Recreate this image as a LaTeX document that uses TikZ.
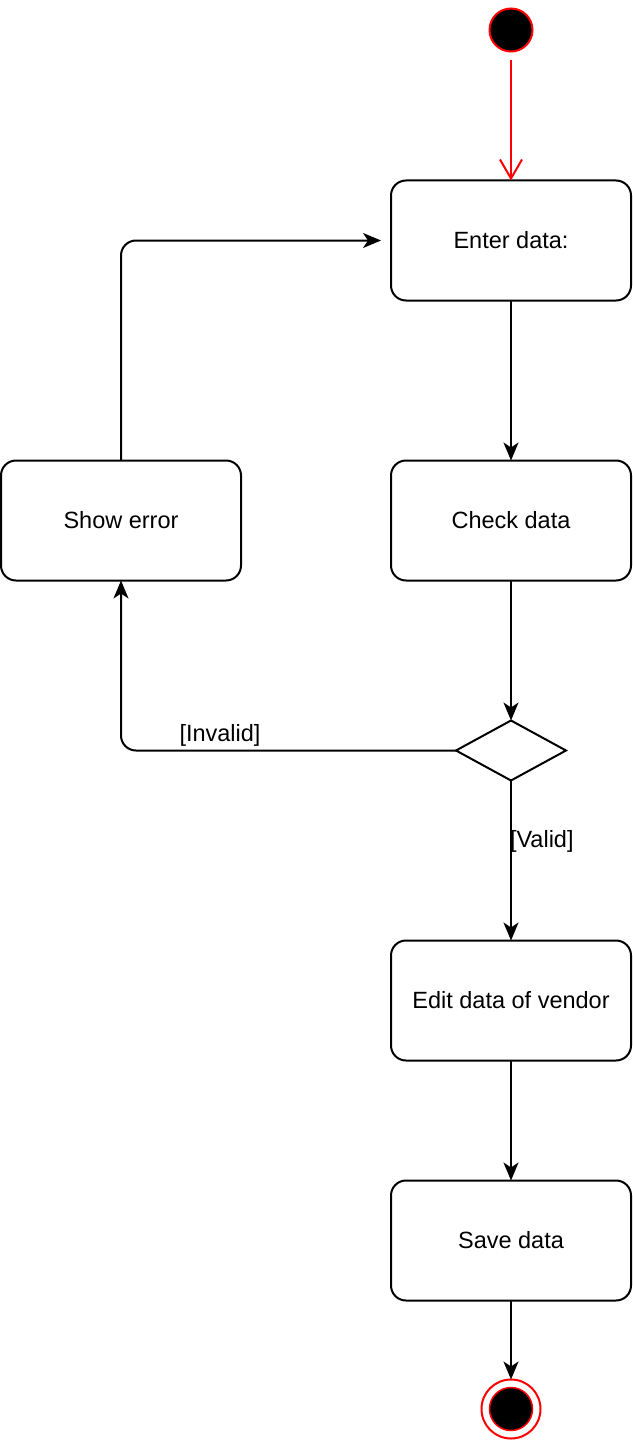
\documentclass[tikz,border=0pt]{standalone}
\usepackage{fontspec}
\setmainfont{Liberation Sans}
\usetikzlibrary{arrows.meta, positioning, shapes.geometric}

\tikzset{
    action/.style={rectangle, draw, rounded corners=15pt, line width=2pt, minimum width=240pt, minimum height=120pt, outer sep=0pt, font=\fontsize{23.5}{28}\selectfont},
    choice/.style={diamond, draw, line width=2pt, minimum width=110pt, minimum height=60pt, inner sep=0pt, outer sep=0pt, aspect=1.8333},
    initial/.style={circle, draw=red, fill=black, line width=2pt, minimum size=43pt, inner sep=0pt, outer sep=0pt},
    final/.style={circle, draw=red, line width=2pt, minimum size=59pt, inner sep=0pt, outer sep=0pt},
    guard/.style={inner sep=0pt, font=\fontsize{23.5}{28}\selectfont},
    flow/.style={line width=2pt, -{Stealth[length=18pt, width=15pt, inset=5pt]}},
    startflow/.style={draw=red, line width=2pt, shorten <=9pt, -{Straight Barb[length=19pt, width=22pt]}}
}

\begin{document}
\begin{tikzpicture}[x=1pt, y=-1pt]
        \useasboundingbox (0,0) rectangle (632,1442);
        \node[initial] (start) at (511,30) {};
        \node[action, below=129pt of start] (enter) {Enter data:};
        \node[action, below=160pt of enter] (check) {Check data};
        \node[action, left=150pt of check] (error) {Show error};
        \node[choice, below=140pt of check] (test) {};
        \node[action, below=160pt of test] (edit) {Edit data of vendor};
        \node[action, below=120pt of edit] (save) {Save data};
        \node[final, below=79pt of save] (stop) {};
        \node[initial, line width=1.5pt] (stopdot) at (stop) {};
        \node[guard] (invalid) at (220,735) {[Invalid]};
        \coordinate[left=10pt of enter.west] (back);
        \draw[startflow] (start) -- (enter);
        \draw[flow] (enter) -- (check);
        \draw[flow] (check) -- (test);
        \draw[flow] (test) -- node[guard, pos=0.38, anchor=west, xshift=-2pt] (valid) {[Valid]} (edit);
        \draw[flow, rounded corners=15pt] (test.west) -| (error.south);
        \draw[flow, rounded corners=15pt] (error.north) |- (back);
        \draw[flow] (edit) -- (save);
        \draw[flow] (save) -- (stop);
    \end{tikzpicture}
\end{document}
